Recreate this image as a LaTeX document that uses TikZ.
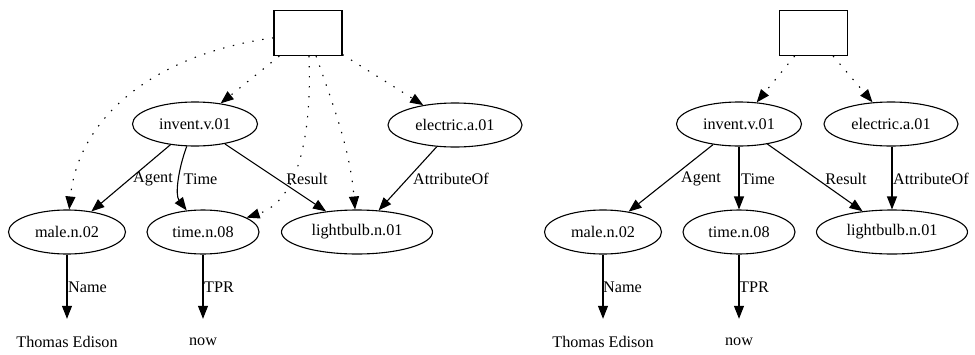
\documentclass[tikz,border=0pt]{standalone}
\usepackage{fontspec}
\setmainfont{Liberation Serif}
\usetikzlibrary{shapes.geometric,arrows.meta}

\tikzset{
  every node/.style={font=\fontsize{16.2}{18}\selectfont, inner sep=0pt},
  sense/.style={ellipse, draw, line width=1.1pt, minimum height=44pt},
  root/.style={rectangle, draw, line width=1.1pt, minimum width=68pt, minimum height=45pt},
  leaf/.style={minimum height=46pt},
  rel/.style={line width=1.1pt, -{Triangle[length=13pt,width=10pt]}},
  link/.style={rel, dash pattern=on 1.4pt off 8.6pt},
  lab/.style={},
}

\begin{document}
\begin{tikzpicture}[x=1pt, y=-1pt]
\useasboundingbox (0,0) rectangle (975,354);

% ---- first graph ----
\node[root] (r1) at (308,33) {};
\node[sense, minimum width=125pt] (inv1) at (195,124) {invent.v.01};
\node[sense, minimum width=134pt] (ele1) at (455,125) {electric.a.01};
\node[sense, minimum width=117pt] (mal1) at (67,232) {male.n.02};
\node[sense, minimum width=112pt] (tim1) at (203,232) {time.n.08};
\node[sense, minimum width=151pt] (lig1) at (357,232) {lightbulb.n.01};
\node[leaf] (te1) at (67,342) {Thomas Edison};
\node[leaf] (now1) at (203,342) {now};

\draw[link] (r1) .. controls (150,55) and (78,120) .. (mal1);
\draw[link] (r1) -- (inv1);
\draw[link] (r1) .. controls (312,130) and (300,200) .. (tim1);
\draw[link] (r1) .. controls (335,110) and (350,150) .. (lig1);
\draw[link] (r1) -- (ele1);

\draw[rel] (inv1) -- (mal1);
\draw[rel] (inv1) .. controls (178,170) and (175,195) .. (tim1);
\draw[rel] (inv1) -- (lig1);
\draw[rel] (ele1.230) -- (lig1.45);
\draw[rel] (mal1) -- (te1);
\draw[rel] (tim1) -- (now1);

\node[lab] (la1) at (153,179) {Agent};
\node[lab] (lt1) at (200.5,179) {Time};
\node[lab] (lr1) at (307,179) {Result};
\node[lab, anchor=west] (lo1) at (413,179) {AttributeOf};
\node[lab, anchor=west] (ln1) at (68,287) {Name};
\node[lab, anchor=west] (lp1) at (204,287) {TPR};

% ---- second graph ----
\node[root] (r2) at (813.5,33) {};
\node[sense, minimum width=125pt] (inv2) at (739,124) {invent.v.01};
\node[sense, minimum width=134pt] (ele2) at (891,124) {electric.a.01};
\node[sense, minimum width=117pt] (mal2) at (603,232) {male.n.02};
\node[sense, minimum width=112pt] (tim2) at (739,232) {time.n.08};
\node[sense, minimum width=151pt] (lig2) at (892,232) {lightbulb.n.01};
\node[leaf] (te2) at (603,342) {Thomas Edison};
\node[leaf] (now2) at (739,342) {now};

\draw[link] (r2) -- (inv2);
\draw[link] (r2) -- (ele2);

\draw[rel] (inv2) -- (mal2);
\draw[rel] (inv2) -- (tim2);
\draw[rel] (inv2) -- (lig2);
\draw[rel] (ele2.south -| lig2) -- (lig2);
\draw[rel] (mal2) -- (te2);
\draw[rel] (tim2) -- (now2);

\node[lab] (la2) at (701,179) {Agent};
\node[lab] (lt2) at (758,179) {Time};
\node[lab] (lr2) at (846,179) {Result};
\node[lab, anchor=west] (lo2) at (893,179) {AttributeOf};
\node[lab, anchor=west] (ln2) at (603,287) {Name};
\node[lab, anchor=west] (lp2) at (739,287) {TPR};
\end{tikzpicture}
\end{document}
